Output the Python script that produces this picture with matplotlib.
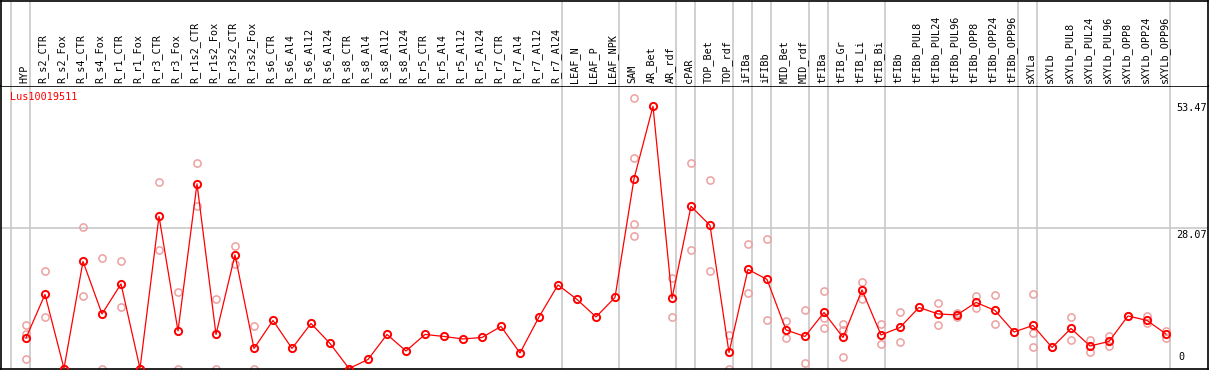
import matplotlib
matplotlib.use("Agg")
import matplotlib.pyplot as plt
import numpy as np

# sample columns, left to right
samples = [
    "HYP", "R_s2_CTR", "R_s2_Fox", "R_s4_CTR", "R_s4_Fox", "R_r1_CTR", "R_r1_Fox",
    "R_r3_CTR", "R_r3_Fox", "R_r1s2_CTR", "R_r1s2_Fox", "R_r3s2_CTR", "R_r3s2_Fox",
    "R_s6_CTR", "R_s6_Al4", "R_s6_Al12", "R_s6_Al24", "R_s8_CTR", "R_s8_Al4",
    "R_s8_Al12", "R_s8_Al24", "R_r5_CTR", "R_r5_Al4", "R_r5_Al12", "R_r5_Al24",
    "R_r7_CTR", "R_r7_Al4", "R_r7_Al12", "R_r7_Al24", "LEAF_N", "LEAF_P", "LEAF_NPK",
    "SAM", "AR_Bet", "AR_rdf", "cPAR", "TOP_Bet", "TOP_rdf", "iFIBa", "iFIBb",
    "MID_Bet", "MID_rdf", "tFIBa", "tFIB_Gr", "tFIB_Li", "tFIB_Bi", "tFIBb",
    "tFIBb_PUL8", "tFIBb_PUL24", "tFIBb_PUL96", "tFIBb_OPP8", "tFIBb_OPP24",
    "tFIBb_OPP96", "sXYLa", "sXYLb", "sXYLb_PUL8", "sXYLb_PUL24", "sXYLb_PUL96",
    "sXYLb_OPP8", "sXYLb_OPP24", "sXYLb_OPP96",
]

# mean expression per sample
means = [
    6.1, 14.8, 0.0, 21.4, 10.9, 16.9, 0.0, 30.4, 7.5, 36.9, 6.8, 22.7, 4.0,
    9.6, 4.0, 9.0, 5.0, 0.0, 1.8, 6.8, 3.5, 6.8, 6.4, 5.9, 6.2, 8.4, 3.1, 10.3,
    16.7, 13.8, 10.3, 14.2, 37.9, 52.4, 14.0, 32.4, 28.6, 3.2, 19.8, 17.8, 7.7,
    6.4, 11.2, 6.2, 15.7, 6.7, 8.2, 12.2, 10.9, 10.7, 13.2, 11.6, 7.3, 8.6, 4.2,
    8.0, 4.5, 5.4, 10.5, 9.6, 6.9,
]

# individual replicates per sample
replicates = [
    [8.7, 6.9, 1.84], [19.4, 10.2], [0.0, 0.0], [28.2, 14.5], [22.1, 0.0],
    [21.4, 12.2], [0.0, 0.0], [37.2, 23.6], [15.2, 0.0], [41.0, 32.5],
    [13.8, 0.0], [24.5, 20.8], [8.4, 0.0],
    [], [], [], [], [], [], [], [], [], [], [], [], [], [], [], [], [], [], [],
    [54.0, 42.0, 28.8, 26.4], [], [18.0, 10.2], [41.0, 23.6], [37.7, 19.4],
    [6.7, 0.0], [24.9, 15.0], [25.8, 9.7], [9.5, 6.1], [11.7, 1.0],
    [15.4, 10.0, 8.0], [8.9, 7.6, 2.2], [17.3, 13.9], [8.8, 4.8], [11.3, 5.3],
    [12.2], [13.1, 8.6], [11.1, 10.2], [14.5, 12.0], [14.7, 8.9], [7.3],
    [14.9, 7.0, 4.2], [4.2], [10.3, 5.6], [5.6, 3.3], [6.4, 4.5], [10.5],
    [10.5, 9.0], [7.5, 6.1],
]

# group separators (index of first column of each group)
separators = [0, 1, 29, 32, 35, 36, 38, 39, 40, 42, 43, 46, 53, 54, 61]
gene = "Lus10019511"
y_marks = [53.47, 28.07]

W, H = 1209, 370
fig = plt.figure(figsize=(W / 100, H / 100), dpi=100)
fig.patch.set_facecolor("white")

px = lambda v: v / W
py = lambda v: v / H

x_left, x_right = 1, 1208
y_top_plot, y_bot_plot, y_line = 86, 369, 86
zero_px = 368.5
scale = 5.005  # pixels per unit

xlim = ((x_left - 26) / 19, (x_right - 26) / 19)
ylim = (-(y_bot_plot - zero_px) / scale, (zero_px - y_top_plot) / scale)

ax = fig.add_axes([px(x_left), py(H - y_bot_plot), px(x_right - x_left),
                   py(y_bot_plot - y_top_plot)])
hx = fig.add_axes([px(x_left), py(H - y_line), px(x_right - x_left),
                   py(y_line - 0.5)], sharex=ax)

ax.set_xlim(*xlim)
ax.set_ylim(*ylim)
hx.set_ylim(0, y_line)

mono = "DejaVu Sans Mono"
grid_c = "#c8c8c8"
sep_x = [k - 15 / 19 for k in separators]
for a in (ax, hx):
    a.set_xticks([])
    a.set_yticks([])
    for s in a.spines.values():
        s.set_color("black")
        s.set_linewidth(1.2)
    for xv in sep_x:
        a.axvline(xv, color=grid_c, lw=1.2, zorder=0)
hx.spines["bottom"].set_visible(False)

ax.axhline(y_marks[1], color=grid_c, lw=1.2, zorder=0)

x = np.arange(len(samples))
rx, ry = [], []
for i, reps in enumerate(replicates):
    rx.extend([i] * len(reps))
    ry.extend(reps)
ax.plot(rx, ry, "o", ms=5.2, mfc="none", mec="#eda0a0", mew=1.1, zorder=2,
        clip_on=True)
ax.plot(x, means, "-", color="#ff0000", lw=0.9, zorder=3)
ax.plot(x, means, "o", ms=5.2, mfc="none", mec="#ff0000", mew=1.4, zorder=4)

for i, name in enumerate(samples):
    hx.text(i - 2 / 19, 3, name, rotation=90, ha="center", va="bottom",
            family=mono, fontsize=7.3, color="black")

ax.text(px(10 - x_left) * W / (x_right - x_left), 1 - 11 / (y_bot_plot - y_top_plot),
        gene, transform=ax.transAxes, family=mono, fontsize=7.3, color="#ff0000",
        ha="left", va="center")

trans = ax.get_yaxis_transform()
xr = (1207 - x_left) / (x_right - x_left)
xl = (1178 - x_left) / (x_right - x_left)
for v in y_marks:
    ax.text(xr, v - 0.4, f"{v:.2f}", transform=trans, ha="right", va="top",
            family=mono, fontsize=7.3, color="black")
ax.text(xl, 1.2, "0", transform=trans, ha="left", va="bottom",
        family=mono, fontsize=7.3, color="black")

fig.savefig("out.png", dpi=100)
